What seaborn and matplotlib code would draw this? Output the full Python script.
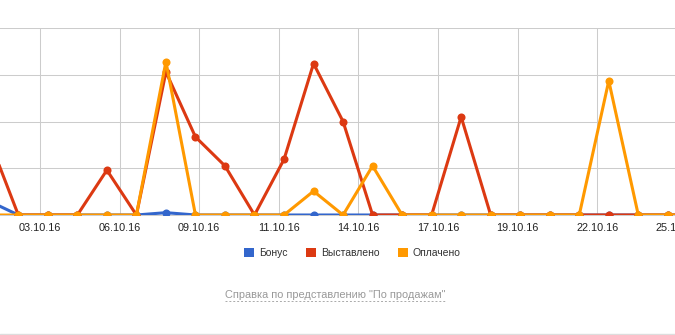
import matplotlib
matplotlib.use("Agg")
import matplotlib.pyplot as plt
from matplotlib.patches import Patch
from matplotlib.lines import Line2D
import seaborn as sns
import pandas as pd

# ---- data ----
point_index = list(range(25))
bonus =    [0.30, 0, 0, 0, 0, 0, 0.05, 0, 0, 0, 0, 0, 0, 0, 0, 0, 0, 0, 0, 0, 0, 0, 0, 0, 0]
invoiced = [1.64, 0, 0, 0, 0.96, 0, 3.06, 1.67, 1.05, 0, 1.19, 3.24, 2.00, 0, 0, 0, 2.10, 0, 0, 0, 0, 0, 0, 0, 0]
paid =     [0, 0, 0, 0, 0, 0, 3.28, 0, 0, 0, 0, 0.51, 0, 1.05, 0, 0, 0, 0, 0, 0, 0, 2.87, 0, 0, 0]
series_names = ["Бонус", "Выставлено", "Оплачено"]
tick_positions = [1.734, 4.431, 7.128, 9.825, 12.522, 15.219, 17.916, 20.613, 23.31]
tick_labels = ["03.10.16", "06.10.16", "09.10.16", "11.10.16", "14.10.16",
               "17.10.16", "19.10.16", "22.10.16", "25.10.16"]
colors = {"Бонус": "#3366cc", "Выставлено": "#dc3912", "Оплачено": "#ff9900"}

df = pd.DataFrame({
    "i": point_index * 3,
    "v": bonus + invoiced + paid,
    "series": [series_names[0]] * 25 + [series_names[1]] * 25 + [series_names[2]] * 25,
})

sns.set_style("white")
plt.rcParams["font.family"] = ["Liberation Sans", "DejaVu Sans"]

W, H = 675, 335
fig = plt.figure(figsize=(W / 100, H / 100), dpi=100)
ax = fig.add_axes([-67.5 / W, 120 / H, 810 / W, 187 / H])

sns.lineplot(data=df, x="i", y="v", hue="series", hue_order=series_names,
             palette=colors, marker="o", markersize=5.8, markeredgewidth=0,
             linewidth=2.2, legend=False, estimator=None, ax=ax, zorder=3)

ax.set_xlim(-1.907, 25.53)
ax.set_ylim(0, 4)
ax.set_xticks(tick_positions)
ax.set_xticklabels(tick_labels)
ax.set_yticks([0, 1, 2, 3, 4])
ax.set_yticklabels([])
ax.grid(True, color="#cccccc", linewidth=0.75)
ax.tick_params(axis="x", length=0, pad=6, labelsize=7.8, labelcolor="#222222")
ax.tick_params(axis="y", length=0)
for s in ["top", "right", "left"]:
    ax.spines[s].set_visible(False)
ax.spines["bottom"].set_color("#cccccc")
ax.spines["bottom"].set_linewidth(0.75)
ax.set_xlabel("")
ax.set_ylabel("")

handles = [Patch(facecolor=colors[n], edgecolor="none", label=n) for n in series_names]
fig.legend(handles=handles, loc="center", bbox_to_anchor=(352.5 / W, (H - 253) / H),
           ncol=3, frameon=False, fontsize=7.5, handlelength=0.95, handleheight=0.95,
           handletextpad=0.5, columnspacing=1.75, labelcolor="#333333")

fig.text(335 / W, (H - 295) / H, "Справка по представлению \"По продажам\"",
         ha="center", va="center", fontsize=7.9, color="#999999")
fig.add_artist(Line2D([225 / W, 445 / W], [(H - 301) / H] * 2, color="#aaaaaa",
                      linewidth=0.7, linestyle=(0, (2, 2))))
fig.add_artist(Line2D([0, 1], [(H - 333.5) / H] * 2, color="#dddddd", linewidth=1))

fig.savefig("out.png", dpi=100)
